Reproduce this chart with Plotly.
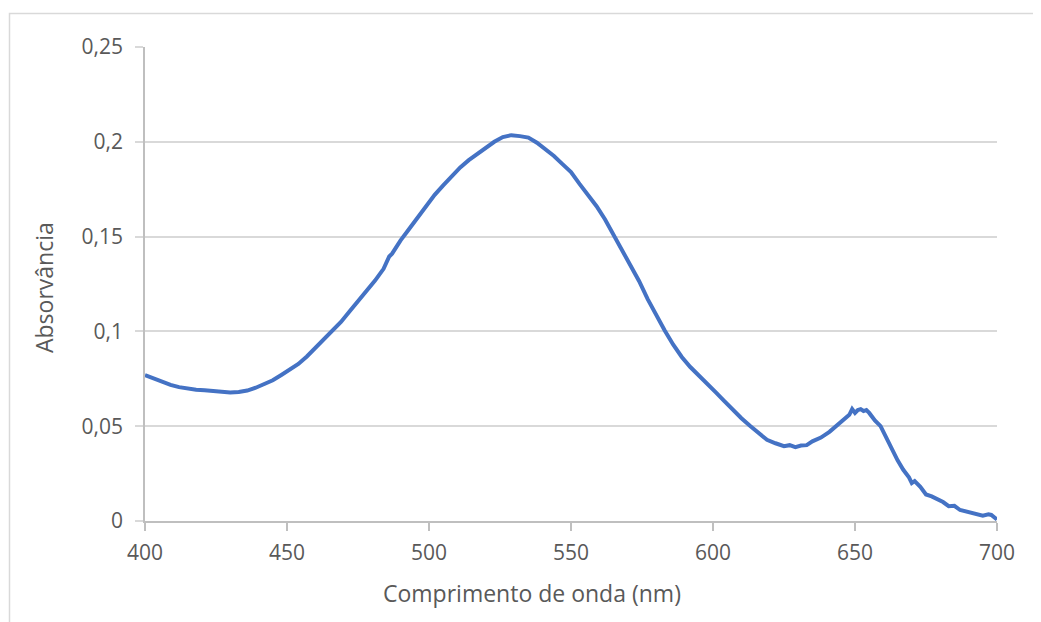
import plotly.graph_objects as go

wavelength = [400, 403, 406, 409, 412, 415, 418, 421, 424, 427, 430, 433, 436, 439, 442, 445, 448, 451, 454, 457,
              460, 463, 466, 469, 472, 475, 478, 481, 484, 486, 487, 490, 493, 496, 499, 502, 505, 508, 511, 514,
              517, 520, 523, 526, 529, 532, 535, 538, 541, 544, 547, 550, 553, 556, 559, 562, 565, 568, 571, 574,
              577, 580, 583, 586, 589, 592, 595, 598, 601, 604, 607, 610, 613, 616, 619, 622, 625, 627, 629, 631,
              633, 635, 638, 641, 644, 646, 648, 649, 650, 651, 652, 653, 654, 655, 657, 659, 661, 663, 665, 667,
              669, 670, 671, 673, 675, 677, 679, 681, 683, 685, 687, 689, 691, 693, 695, 697, 698, 700]

absorbance = [0.0770, 0.0752, 0.0737, 0.0718, 0.0706, 0.0698, 0.0692, 0.0690, 0.0686, 0.0680, 0.0678, 0.0680,
              0.0688, 0.0703, 0.0720, 0.0742, 0.0770, 0.0797, 0.0828, 0.0868, 0.0912, 0.0956, 0.1003, 0.1050,
              0.1105, 0.1158, 0.1213, 0.1268, 0.1330, 0.1395, 0.1410, 0.1480, 0.1540, 0.1600, 0.1660, 0.1720,
              0.1770, 0.1820, 0.1865, 0.1903, 0.1935, 0.1970, 0.2000, 0.2025, 0.2035, 0.2030, 0.2022, 0.1995,
              0.1962, 0.1925, 0.1882, 0.1840, 0.1778, 0.1720, 0.1660, 0.1590, 0.1510, 0.1432, 0.1352, 0.1265,
              0.1170, 0.1085, 0.1005, 0.0930, 0.0865, 0.0812, 0.0765, 0.0725, 0.0678, 0.0632, 0.0585, 0.0542,
              0.0502, 0.0462, 0.0428, 0.0410, 0.0395, 0.0400, 0.0390, 0.0398, 0.0400, 0.0420, 0.0440, 0.0470,
              0.0510, 0.0535, 0.0560, 0.0590, 0.0570, 0.0585, 0.0590, 0.0580, 0.0585, 0.0570, 0.0530, 0.0500,
              0.0440, 0.0370, 0.0320, 0.0270, 0.0230, 0.0200, 0.0210, 0.0180, 0.0140, 0.0130, 0.0115, 0.0100,
              0.0078, 0.0080, 0.0058, 0.0050, 0.0042, 0.0035, 0.0028, 0.0035, 0.0032, 0.0008]

x_title = "Comprimento de onda (nm)"
y_title = "Absorvância"

TEXT = "#595959"
GRID = "#D9D9D9"
AXIS = "#BFBFBF"
FONT = "Open Sans"

# page offset of the figure inside the browser window (body margin)
OFF = 8
W, H = 1041, 622
PL, PR, PT, PB = 145, 997, 47, 521  # target plot area in window pixels
ML, MT = PL - OFF, PT - OFF
MR, MB = W - (PR - OFF), H - (PB - OFF)
PW, PH = PR - PL, PB - PT


def px_x(wx):
    return (wx - PL) / PW


def px_y(wy):
    return (PB - wy) / PH


fig = go.Figure()
fig.add_trace(go.Scatter(x=wavelength, y=absorbance, mode="lines",
                         line=dict(color="#4472C4", width=4), showlegend=False))

fig.update_layout(
    width=W, height=H,
    margin=dict(l=ML, r=MR, t=MT, b=MB),
    paper_bgcolor="white", plot_bgcolor="white",
    separators=", ",
    font=dict(family=FONT, color=TEXT, size=21),
    xaxis=dict(range=[400, 700], dtick=50, tick0=400, showgrid=False,
               showline=True, linecolor=AXIS, linewidth=1.5,
               ticks="outside", ticklen=8, tickcolor=AXIS, tickwidth=1.5,
               tickfont=dict(size=21, color=TEXT), zeroline=False, ticklabelstandoff=4),
    yaxis=dict(range=[0, 0.25], dtick=0.05, tick0=0, showgrid=True, gridcolor=GRID, gridwidth=1.5,
               showline=True, linecolor=AXIS, linewidth=1.5,
               ticks="outside", ticklen=8, tickcolor=GRID, tickwidth=1.5,
               tickfont=dict(size=21, color=TEXT), zeroline=False, ticklabelstandoff=8),
    shapes=[dict(type="rect", xref="paper", yref="paper",
                 x0=px_x(9.5), x1=px_x(1100), y0=px_y(700), y1=px_y(13.5),
                 line=dict(color=GRID, width=1.5), fillcolor="rgba(0,0,0,0)", layer="below")],
    annotations=[
        dict(text=x_title, xref="paper", yref="paper",
             x=px_x(532), y=px_y(593), xanchor="center", yanchor="middle",
             showarrow=False, font=dict(size=23, color=TEXT, family=FONT)),
        dict(text=y_title, xref="paper", yref="paper", textangle=-90,
             x=px_x(44), y=px_y(288), xanchor="center", yanchor="middle",
             showarrow=False, font=dict(size=23, color=TEXT, family=FONT)),
    ],
)

fig.write_html("out.html")
